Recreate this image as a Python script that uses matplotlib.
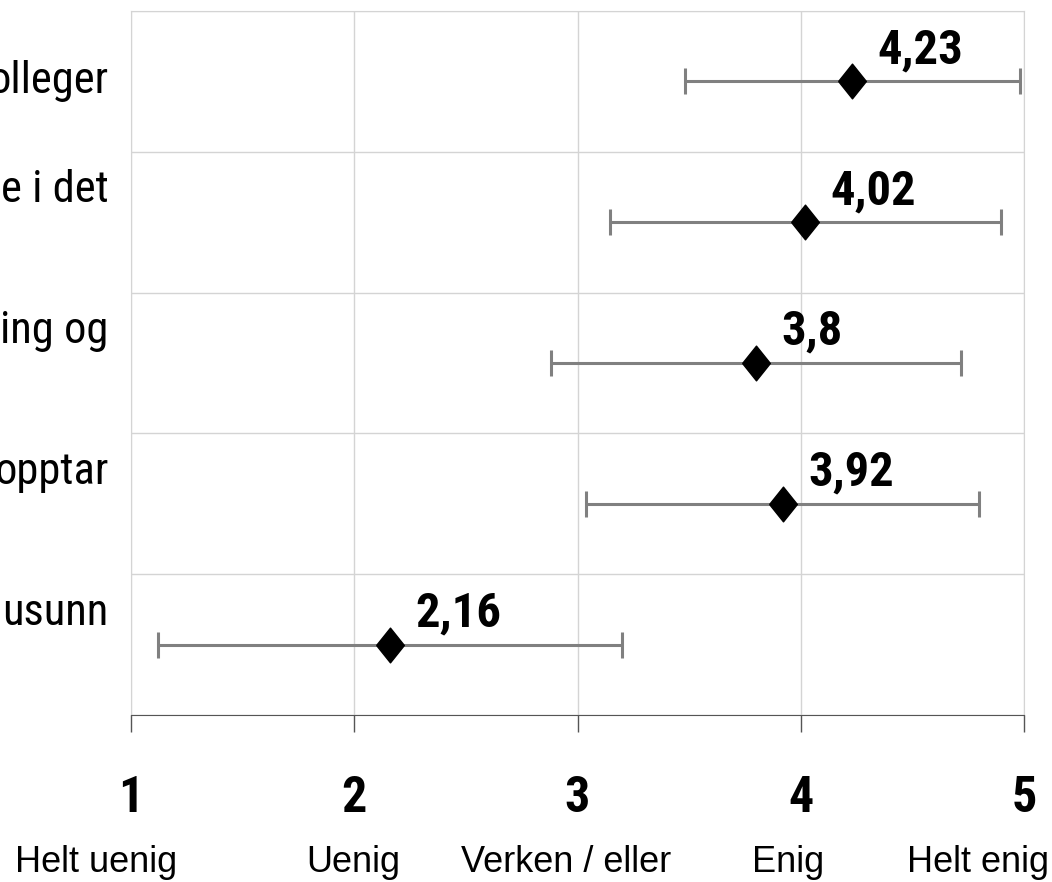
import matplotlib
matplotlib.use("Agg")
import logging
import matplotlib.pyplot as plt
from matplotlib.transforms import offset_copy, blended_transform_factory

logging.getLogger("matplotlib.font_manager").setLevel(logging.ERROR)

# survey items, top to bottom (only the tail of each statement fits)
items = ["olleger", "e i det", "ing og", "opptar", "usunn"]
wrapped = [False, True, True, True, True]
means = [4.23, 4.02, 3.8, 3.92, 2.16]
sds = [0.75, 0.875, 0.92, 0.88, 1.04]
value_text = ["4,23", "4,02", "3,8", "3,92", "2,16"]

scale_vals = [1, 2, 3, 4, 5]
scale_text = ["Helt uenig", "Uenig", "Verken / eller", "Enig", "Helt enig"]

narrow = ["Liberation Sans Narrow", "Arial Narrow", "Roboto Condensed",
          "Archivo Narrow", "IBM Plex Sans Condensed", "DejaVu Sans"]
plain = ["Liberation Sans", "Arimo", "DejaVu Sans"]

fig = plt.figure(figsize=(10.52, 8.82), dpi=100)
ax = fig.add_axes([131 / 1052, 1 - 715 / 882, (1024 - 131) / 1052, (715 - 11) / 882])

n = len(items)
ypos = [n - 0.5 - i for i in range(n)]

# tall diamond marker
diamond = [(-0.4, 0), (0, 0.5), (0.4, 0), (0, -0.5), (-0.4, 0)]

ax.errorbar(means, ypos, xerr=sds, fmt="none", ecolor="#808080",
            elinewidth=2.2, capsize=9.5, capthick=2.2, zorder=3)
ax.plot(means, ypos, linestyle="none", marker=diamond, markersize=25,
        color="black", zorder=4)

for m, y, t in zip(means, ypos, value_text):
    tr = offset_copy(ax.transData, fig=fig, x=18, y=13, units="points")
    ax.text(m, y, t, transform=tr, ha="left", va="baseline",
            fontsize=35, fontweight="bold", family=narrow)

ax.set_xlim(1, 5)
ax.set_ylim(0, n)

ax.set_xticks(scale_vals)
ax.set_xticklabels([str(v) for v in scale_vals], fontsize=36,
                   fontweight="bold", family=narrow)
ax.tick_params(axis="x", direction="out", length=12, width=1,
               color="#555555", pad=31)

# row boundaries as gridlines, item labels drawn as text
ax.set_yticks(range(n + 1))
ax.set_yticklabels([])
ax.tick_params(axis="y", length=0)

ax.grid(True, axis="both", color="#d4d4d4", linewidth=1)
ax.set_axisbelow(True)

ylab = blended_transform_factory(ax.transAxes, ax.transData)
for y, t, w in zip(ypos, items, wrapped):
    tr = offset_copy(ylab, fig=fig, x=-16, y=23 if w else 0, units="points")
    ax.text(0, y, t, transform=tr, ha="right", va="center",
            fontsize=32, family=narrow)

for side in ["top", "right", "left"]:
    ax.spines[side].set_color("#d4d4d4")
ax.spines["bottom"].set_color("#555555")

# verbal anchors under the numeric scale
trans = blended_transform_factory(ax.transData, ax.transAxes)
shifts = [-25, -1, -8, -9, -33]
for v, t, dx in zip(scale_vals, scale_text, shifts):
    tr = offset_copy(trans, fig=fig, x=dx, y=-113, units="points")
    ax.text(v, 0, t, transform=tr, ha="center", va="baseline",
            fontsize=26, family=plain)

fig.savefig("out.png", dpi=100)
